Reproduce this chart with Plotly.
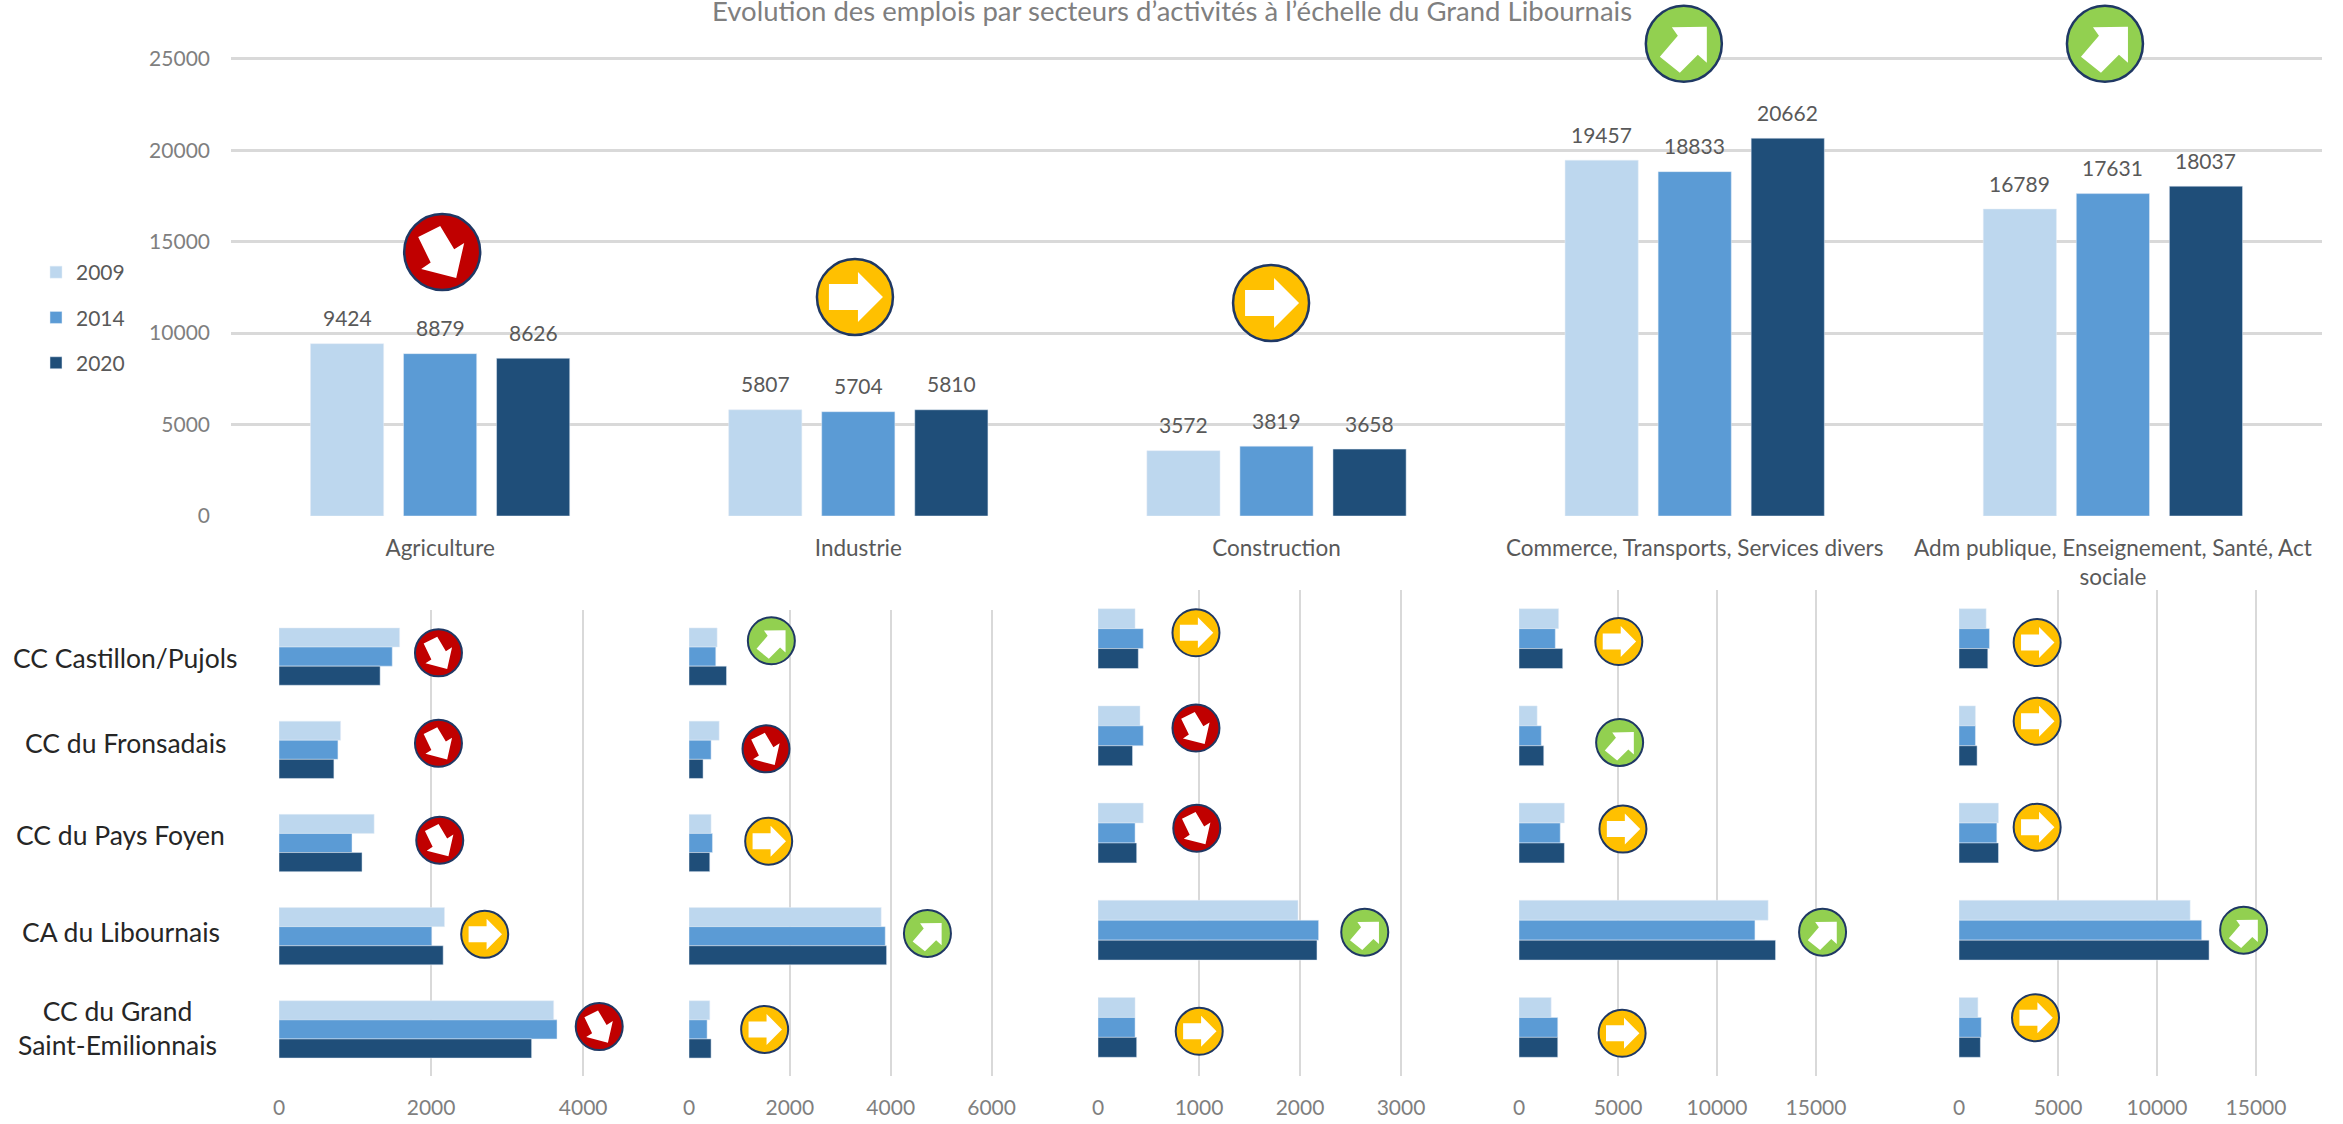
import plotly.graph_objects as go

W, H = 2343, 1124
FONT = "Lato"

years = ["2009", "2014", "2020"]
colors = ["#BDD7EE", "#5B9BD5", "#1F4E79"]

sectors = ["Agriculture", "Industrie", "Construction", "Commerce, Transports, Services divers",
           "Adm publique, Enseignement, Santé, Act<br>sociale"]
total_2009 = [9424, 5807, 3572, 19457, 16789]
total_2014 = [8879, 5704, 3819, 18833, 17631]
total_2020 = [8626, 5810, 3658, 20662, 18037]

territories = ["CC Castillon/Pujols", "CC du Fronsadais", "CC du Pays Foyen", "CA du Libournais",
               "CC du Grand<br>Saint-Emilionnais"]

agri_2009 = [1586, 810, 1251, 2176, 3612]
agri_2014 = [1489, 775, 960, 2009, 3656]
agri_2020 = [1330, 722, 1092, 2159, 3322]
indu_2009 = [558, 598, 438, 3811, 412]
indu_2014 = [531, 438, 465, 3891, 359]
indu_2020 = [744, 279, 412, 3918, 438]
cons_2009 = [367, 416, 448, 1980, 367]
cons_2014 = [448, 448, 367, 2184, 367]
cons_2020 = [399, 342, 383, 2168, 383]
comm_2009 = [2000, 917, 2292, 12583, 1625]
comm_2014 = [1833, 1125, 2083, 11917, 1958]
comm_2020 = [2208, 1250, 2292, 12958, 1958]
adm_2009 = [1371, 831, 1994, 11674, 955]
adm_2014 = [1537, 831, 1911, 12256, 1122]
adm_2020 = [1454, 914, 1994, 12630, 1080]

top_trend = ["down", "flat", "flat", "up", "up"]
top_icon_x = [0.005, 0.992, 1.987, 2.974, 3.981]
top_icon_y = [14442, 11980, 11650, 25820, 25820]

agri_trend = ["down", "down", "down", "flat", "down"]
agri_icon_x = [2097, 2097, 2114, 2705, 4211]
agri_icon_y = [-0.04, 0.93, 1.97, 2.98, 3.97]
indu_trend = ["up", "down", "flat", "up", "flat"]
indu_icon_x = [1633, 1527, 1580, 4728, 1500]
indu_icon_y = [-0.17, 0.99, 1.98, 2.97, 4.0]
cons_trend = ["flat", "down", "down", "up", "flat"]
cons_icon_x = [970, 970, 978, 2641, 1002]
cons_icon_y = [-0.06, 0.92, 1.95, 3.02, 4.04]
comm_trend = ["flat", "up", "flat", "up", "flat"]
comm_icon_x = [5042, 5083, 5250, 15333, 5208]
comm_icon_y = [0.03, 1.07, 1.96, 3.02, 4.06]
adm_trend = ["flat", "flat", "flat", "up", "flat"]
adm_icon_x = [3947, 3947, 3947, 14375, 3864]
adm_icon_y = [0.04, 0.85, 1.94, 3.0, 3.9]

FILL = {"down": "#C00000", "flat": "#FFC000", "up": "#92D050"}
ARROW = {
    "flat": [(-26, 13), (3, 13), (3, 25), (28, 0), (3, -25), (3, -13), (-26, -13)],
    "up": [(-12, 16.5), (23, 17), (23, -19), (14, -11), (-4, -29), (-24, -13), (-6, 8)],
    "down": [(14, -26), (-21, -17), (-11.5, -10.7), (-24, 15), (-2, 26), (12, 2.7), (22, 9)],
}


def dom_x(a, b):
    return [a / W, b / W]


def dom_y(top, bottom):
    return [1 - bottom / H, 1 - top / H]


def icon(shapes, xr, yr, x, y, trend, radius):
    common = dict(xref=xr, yref=yr, xsizemode="pixel", ysizemode="pixel", xanchor=x, yanchor=y, layer="above")
    shapes.append(dict(type="circle", x0=-radius, x1=radius, y0=-radius, y1=radius,
                       fillcolor=FILL[trend], line=dict(color="#1F3864", width=2.5 if radius > 30 else 2), **common))
    k = radius / 38
    pts = ARROW[trend]
    path = "M" + " L".join(f"{px * k:.1f},{py * k:.1f}" for px, py in pts) + " Z"
    shapes.append(dict(type="path", path=path, fillcolor="white", line=dict(width=0), **common))


fig = go.Figure()
shapes = []
annotations = []

TOP_W, TOP_STEP = 0.175, 0.2225
for s, vals in enumerate([total_2009, total_2014, total_2020]):
    fig.add_trace(go.Bar(x=list(range(5)), y=vals, name=years[s], marker_color=colors[s],
                         width=TOP_W, offset=(s - 1) * TOP_STEP - TOP_W / 2, xaxis="x", yaxis="y",
                         legendgroup=years[s]))
    for i, v in enumerate(vals):
        annotations.append(dict(x=i + (s - 1) * TOP_STEP, y=v, xref="x", yref="y", text=str(v), showarrow=False,
                                yshift=26, yanchor="middle", font=dict(family=FONT, size=21, color="#595959")))

panels = [
    ((agri_2009, agri_2014, agri_2020), (279, 644), (610, 1076), 4800, [0, 2000, 4000],
     (agri_trend, agri_icon_x, agri_icon_y)),
    ((indu_2009, indu_2014, indu_2020), (689, 1040), (610, 1076), 6960, [0, 2000, 4000, 6000],
     (indu_trend, indu_icon_x, indu_icon_y)),
    ((cons_2009, cons_2014, cons_2020), (1098, 1450), (590, 1076), 3485, [0, 1000, 2000, 3000],
     (cons_trend, cons_icon_x, cons_icon_y)),
    ((comm_2009, comm_2014, comm_2020), (1519, 1880), (590, 1076), 18234, [0, 5000, 10000, 15000],
     (comm_trend, comm_icon_x, comm_icon_y)),
    ((adm_2009, adm_2014, adm_2020), (1959, 2300), (590, 1076), 17222, [0, 5000, 10000, 15000],
     (adm_trend, adm_icon_x, adm_icon_y)),
]

LOW_W = 0.205
layout_axes = {}
for p, (series, xd, yd, xmax, ticks, icons) in enumerate(panels):
    n = p + 2
    xa, ya = f"x{n}", f"y{n}"
    for s, vals in enumerate(series):
        fig.add_trace(go.Bar(y=list(range(5)), x=vals, orientation="h", name=years[s], marker_color=colors[s],
                             width=LOW_W, offset=(s - 1) * LOW_W - LOW_W / 2, xaxis=xa, yaxis=ya,
                             legendgroup=years[s], showlegend=False))
    layout_axes[f"xaxis{n}"] = dict(domain=dom_x(*xd), range=[0, xmax], tickvals=ticks, ticktext=[str(t) for t in ticks],
                                    anchor=ya, showgrid=True, gridcolor="#D9D9D9", gridwidth=2, zeroline=False,
                                    ticklabelstandoff=17, tickfont=dict(family=FONT, size=21, color="#7F7F7F"),
                                    showline=False, automargin=False)
    layout_axes[f"yaxis{n}"] = dict(domain=dom_y(*yd), range=[4.5, -0.5], anchor=xa, showgrid=False, zeroline=False,
                                    showticklabels=False, tickvals=[], showline=False, automargin=False)
    for t, x, y in zip(*icons):
        icon(shapes, xa, ya, x, y, t, 23.5)

for t, x, y in zip(top_trend, top_icon_x, top_icon_y):
    icon(shapes, "x", "y", x, y, t, 38)

row_label_x = [125, 125, 120, 121, 117]
row_label_y = [0.01, -0.07, -0.09, -0.04, -0.02]
for i, name in enumerate(territories):
    annotations.append(dict(x=row_label_x[i] / W, y=i + row_label_y[i], xref="paper", yref="y2", text=name,
                            showarrow=False, xanchor="center", yanchor="middle",
                            font=dict(family=FONT, size=26.5, color="#262626")))

annotations.append(dict(x=1172 / W, y=1 - 10 / H, xref="paper", yref="paper", showarrow=False, xanchor="center",
                        yanchor="middle", text="Evolution des emplois par secteurs d’activités à l’échelle du Grand Libournais",
                        font=dict(family=FONT, size=27.5, color="#7F7F7F")))

fig.update_layout(
    width=W, height=H, margin=dict(l=0, r=0, t=0, b=0), paper_bgcolor="white", plot_bgcolor="rgba(0,0,0,0)",
    barmode="group", showlegend=True,
    font=dict(family=FONT, color="#595959"),
    legend=dict(x=36 / W, y=1 - 252 / H, xanchor="left", yanchor="top", bgcolor="rgba(0,0,0,0)",
                font=dict(family=FONT, size=21, color="#595959"), tracegroupgap=15),
    xaxis=dict(domain=dom_x(231, 2322), range=[-0.5, 4.5], tickmode="array", tickvals=list(range(5)), ticktext=sectors,
               showgrid=False, zeroline=False, anchor="y", tickangle=0, ticklabelstandoff=16, automargin=False,
               tickfont=dict(family=FONT, size=22.5, color="#595959")),
    yaxis=dict(domain=dom_y(4, 516), range=[0, 28000], tickvals=[0, 5000, 10000, 15000, 20000, 25000],
               ticktext=["0", "5000", "10000", "15000", "20000", "25000"], showgrid=True, gridcolor="#D9D9D9",
               gridwidth=3, zeroline=False, anchor="x", ticklabelstandoff=20, automargin=False,
               tickfont=dict(family=FONT, size=21, color="#7F7F7F")),
    shapes=shapes, annotations=annotations, **layout_axes,
)
fig.write_html("out.html", config={"displayModeBar": False}, post_script="document.body.style.margin='0';")
